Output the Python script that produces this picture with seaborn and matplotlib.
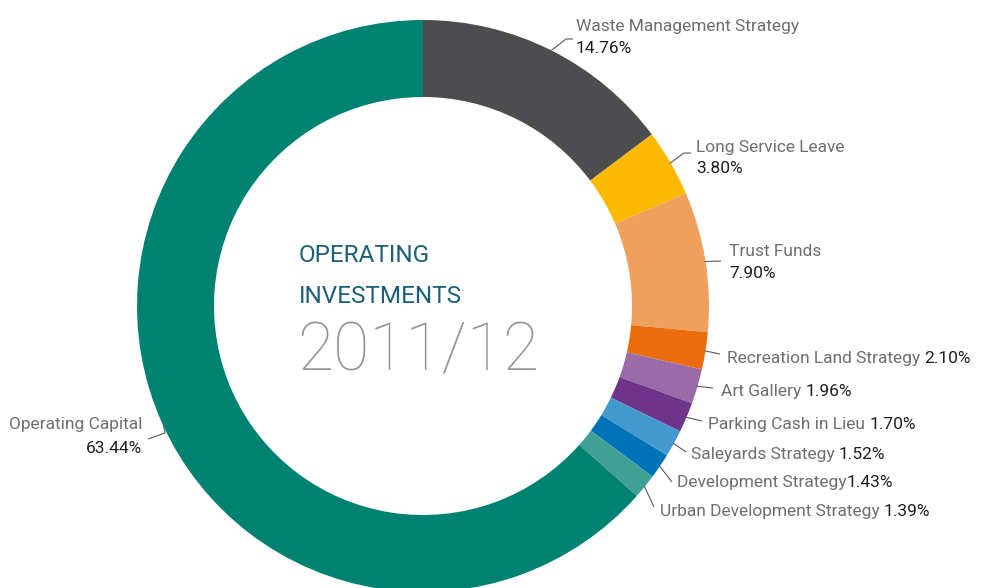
import numpy as np
import matplotlib
matplotlib.use('Agg')
import matplotlib.pyplot as plt
import seaborn as sns
from matplotlib import font_manager

# Operating Investments 2011/12 - share of total (%)
names = ['Waste Management Strategy', 'Long Service Leave', 'Trust Funds',
         'Recreation Land Strategy', 'Art Gallery', 'Parking Cash in Lieu',
         'Saleyards Strategy', 'Development Strategy', 'Urban Development Strategy',
         'Operating Capital']
shares = [14.76, 3.80, 7.90, 2.10, 1.96, 1.70, 1.52, 1.43, 1.39, 63.44]
pct_labels = ['14.76%', '3.80%', '7.90%', '2.10%', '1.96%', '1.70%',
              '1.52%', '1.43%', '1.39%', '63.44%']
colors = ['#4d4d4f', '#fbb900', '#f0a05e', '#eb6c0a', '#9b6ba8',
          '#6e348a', '#4599cf', '#0072b8', '#40a096', '#008272']

sns.set_theme(style='white')

available = {f.name for f in font_manager.fontManager.ttflist}
if 'Liberation Sans Narrow' in available:
    label_font, label_size = 'Liberation Sans Narrow', 14.5
else:
    label_font, label_size = 'Roboto', 12.5
plt.rcParams['font.family'] = [label_font, 'DejaVu Sans']

W, H = 981, 588


def py(y):
    # pixel row (from top) -> data y
    return H - y


fig = plt.figure(figsize=(W / 100, H / 100), dpi=100)
ax = fig.add_axes([0, 0, 1, 1])

cx, cy, r_out, ring = 423, py(306), 286, 77
wedges, _ = ax.pie(shares, colors=colors, startangle=90, counterclock=False,
                   radius=r_out, center=(cx, cy), frame=True,
                   wedgeprops=dict(width=ring, linewidth=0))
ax.set_xlim(0, W)
ax.set_ylim(0, H)
ax.set_aspect('equal')
ax.axis('off')

# label layout: text x, name baseline, pct baseline (None = same line), leader path
name_col = '#6d6e71'
pct_col = '#231f20'
line_col = '#58595b'
layout = [
    (576, 31, 53, [(566, 39), (573, 39)], 'left'),
    (696, 152, 173, [(684, 153), (691, 153)], 'left'),
    (729, 256, 278, [(721, 261)], 'left'),
    (727, 363, None, [(720, 354)], 'left'),
    (721, 396, None, [(713, 388)], 'left'),
    (708, 429, None, [(702, 421)], 'left'),
    (691, 459, None, [(686, 452)], 'left'),
    (677, 487, None, [(672, 482)], 'left'),
    (660, 516, None, [(654, 507)], 'left'),
    (142, 429, 453, [(165, 433), (148, 439)], 'right'),
]

for w, name, pct, (tx, nb, pb, path, ha) in zip(wedges, names, pct_labels, layout):
    mid = np.deg2rad((w.theta1 + w.theta2) / 2)
    sx = cx + (r_out - 1) * np.cos(mid)
    sy = cy + (r_out - 1) * np.sin(mid)
    xs = [sx] + [p[0] for p in path]
    ys = [sy] + [py(p[1]) for p in path]
    ax.plot(xs, ys, color=line_col, lw=0.8, solid_capstyle='butt')
    if pb is not None:
        ax.text(tx, py(nb), name, ha=ha, va='baseline', color=name_col,
                fontsize=label_size)
        ax.text(tx, py(pb), pct, ha=ha, va='baseline', color=pct_col,
                fontsize=label_size)
    else:
        sep = '' if name == 'Development Strategy' else ' '
        t = ax.text(tx, py(nb), name + sep, ha='left', va='baseline',
                    color=name_col, fontsize=label_size)
        ax.annotate(pct, xy=(1, 0), xycoords=t, ha='left', va='bottom',
                    color=pct_col, fontsize=label_size)

# centre title
ax.text(299, py(262), 'OPERATING', ha='left', va='baseline', color='#1b5f7a',
        fontsize=17.5, family='Roboto', fontweight='normal')
ax.text(299, py(303), 'INVESTMENTS', ha='left', va='baseline', color='#1b5f7a',
        fontsize=17.5, family='Roboto', fontweight='normal')
ax.text(297, py(370), '2011/12', ha='left', va='baseline', color='#939598',
        fontsize=47.5, family='Roboto', fontweight='light')

fig.savefig('out.png', dpi=100, facecolor='white')
